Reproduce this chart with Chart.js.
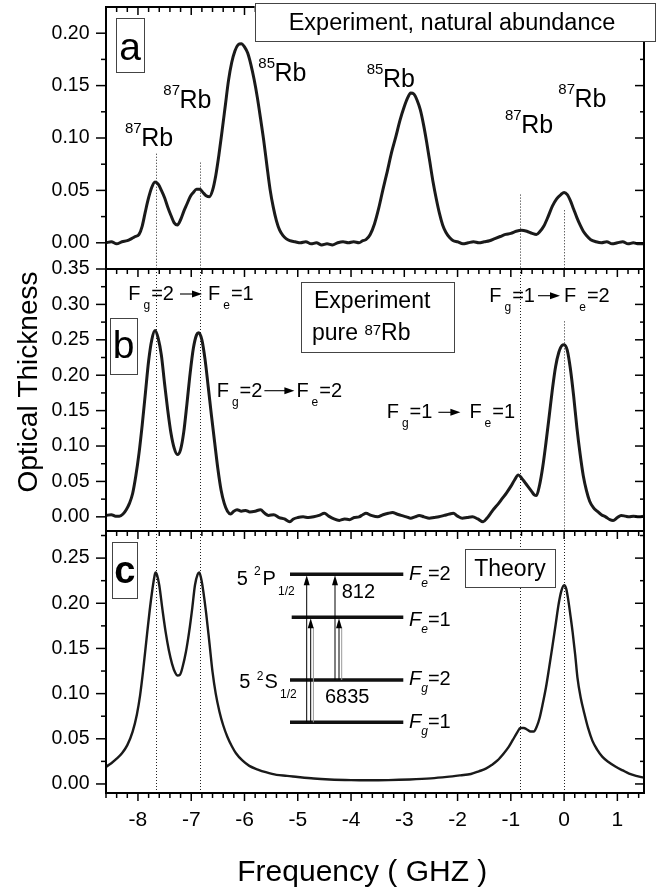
<!DOCTYPE html>
<html>
<head>
<meta charset="utf-8">
<script src="https://cdn.jsdelivr.net/npm/chart.js@4/dist/chart.umd.min.js"></script>
<style>
html,body{margin:0;padding:0;background:#fff;}
#wrap{width:658px;height:889px;position:relative;}
canvas{display:block;}
</style>
</head>
<body>
<div id="wrap"><canvas id="c" width="658" height="889"></canvas></div>
<script>
const FONT = '"Liberation Sans", Arial, Helvetica, sans-serif';

// ---------------- data ----------------
// Panel a: experiment, natural abundance (optical thickness vs GHz)
const freqA = [
  -8.60,-8.50,-8.40,-8.30,-8.20,-8.12,-8.05,-7.98,-7.92,-7.86,
  -7.80,-7.74,-7.68,-7.62,-7.56,-7.50,-7.44,-7.38,-7.32,-7.26,
  -7.20,-7.14,-7.08,-7.02,-6.96,-6.90,-6.84,-6.78,-6.72,-6.66,
  -6.60,-6.54,-6.48,-6.42,-6.36,-6.30,-6.24,-6.18,-6.12,-6.06,
  -6.00,-5.94,-5.88,-5.82,-5.76,-5.70,-5.64,-5.58,-5.52,-5.46,
  -5.40,-5.34,-5.28,-5.22,-5.15,-5.05,-4.95,-4.85,-4.75,-4.65,
  -4.55,-4.45,-4.35,-4.25,-4.15,-4.05,-3.95,-3.85,-3.78,-3.72,
  -3.64,-3.56,-3.48,-3.40,-3.32,-3.24,-3.16,-3.08,-3.00,-2.94,
  -2.88,-2.82,-2.76,-2.70,-2.64,-2.58,-2.52,-2.46,-2.40,-2.34,
  -2.28,-2.22,-2.15,-2.08,-2.00,-1.90,-1.80,-1.70,-1.60,-1.50,
  -1.40,-1.30,-1.20,-1.10,-1.00,-0.90,-0.80,-0.70,-0.60,-0.52,
  -0.45,-0.38,-0.30,-0.22,-0.14,-0.06,0.00,0.06,0.12,0.18,
  0.24,0.30,0.36,0.42,0.50,0.60,0.70,0.80,0.90,1.00,
  1.10,1.20,1.30,1.40,1.50
];
const odA = [
  0.000,0.001,-0.001,0.001,0.002,0.004,0.006,0.008,0.016,0.030,
  0.043,0.053,0.058,0.056,0.050,0.043,0.034,0.026,0.019,0.017,
  0.022,0.030,0.037,0.044,0.048,0.051,0.051,0.048,0.045,0.044,
  0.050,0.064,0.084,0.107,0.131,0.155,0.172,0.183,0.189,0.190,
  0.187,0.181,0.170,0.156,0.139,0.119,0.098,0.074,0.051,0.034,
  0.021,0.012,0.007,0.004,0.002,0.001,0.000,0.001,-0.001,0.000,
  -0.002,-0.001,-0.002,0.000,0.001,0.000,0.001,0.000,0.002,0.003,
  0.008,0.018,0.033,0.051,0.068,0.086,0.101,0.117,0.130,0.138,
  0.143,0.142,0.136,0.127,0.113,0.096,0.077,0.058,0.042,0.028,
  0.017,0.010,0.005,0.002,0.001,-0.001,0.000,0.001,0.000,0.001,
  0.002,0.004,0.006,0.008,0.009,0.011,0.012,0.011,0.009,0.008,
  0.011,0.016,0.025,0.035,0.042,0.046,0.048,0.046,0.040,0.032,
  0.024,0.017,0.011,0.007,0.003,0.001,0.000,0.001,-0.001,0.000,
  0.001,-0.001,0.000,-0.001,-0.001
];

// Panel b: experiment, pure 87Rb
const freqB = [
  -8.60,-8.50,-8.42,-8.35,-8.28,-8.22,-8.16,-8.10,-8.04,-7.98,
  -7.92,-7.86,-7.80,-7.74,-7.68,-7.62,-7.56,-7.50,-7.44,-7.38,
  -7.32,-7.26,-7.20,-7.14,-7.08,-7.02,-6.96,-6.90,-6.86,-6.80,
  -6.74,-6.68,-6.62,-6.56,-6.50,-6.44,-6.38,-6.32,-6.26,-6.20,
  -6.14,-6.06,-5.98,-5.90,-5.80,-5.70,-5.62,-5.55,-5.45,-5.35,
  -5.25,-5.15,-5.08,-5.00,-4.90,-4.80,-4.70,-4.60,-4.50,-4.42,
  -4.32,-4.22,-4.12,-4.03,-3.94,-3.85,-3.78,-3.72,-3.62,-3.50,
  -3.40,-3.30,-3.22,-3.14,-3.06,-2.96,-2.88,-2.80,-2.72,-2.63,
  -2.53,-2.44,-2.35,-2.25,-2.15,-2.08,-2.00,-1.91,-1.82,-1.72,
  -1.62,-1.52,-1.45,-1.38,-1.32,-1.24,-1.16,-1.08,-1.00,-0.93,
  -0.86,-0.80,-0.74,-0.68,-0.62,-0.56,-0.52,-0.46,-0.40,-0.34,
  -0.28,-0.22,-0.16,-0.10,-0.04,0.00,0.06,0.12,0.18,0.24,
  0.30,0.36,0.42,0.48,0.55,0.62,0.70,0.78,0.86,0.92,
  1.00,1.07,1.15,1.22,1.30,1.40,1.50
];
const odB = [
  0.002,0.003,0.001,0.001,0.004,0.010,0.019,0.033,0.058,0.090,
  0.130,0.175,0.220,0.250,0.263,0.252,0.228,0.188,0.150,0.118,
  0.097,0.088,0.095,0.120,0.160,0.203,0.238,0.257,0.260,0.250,
  0.222,0.183,0.143,0.105,0.068,0.038,0.019,0.008,0.004,0.008,
  0.010,0.008,0.009,0.007,0.008,0.010,0.005,0.002,0.003,-0.001,
  -0.003,-0.007,-0.003,-0.001,0.000,-0.001,0.000,0.002,0.005,0.001,
  -0.003,-0.005,-0.003,-0.004,-0.001,0.000,0.003,0.005,0.002,0.000,
  0.003,0.005,0.006,0.004,0.002,0.000,-0.002,0.000,0.002,0.000,
  -0.002,-0.001,0.000,0.002,0.004,0.005,0.001,-0.002,-0.001,0.000,
  -0.003,-0.007,-0.002,0.005,0.011,0.018,0.026,0.034,0.043,0.052,
  0.059,0.055,0.049,0.043,0.037,0.031,0.030,0.045,0.071,0.105,
  0.142,0.180,0.212,0.232,0.242,0.243,0.235,0.208,0.170,0.126,
  0.089,0.058,0.037,0.022,0.013,0.008,0.003,0.000,-0.004,-0.005,
  -0.001,0.002,0.001,0.000,0.001,0.000,0.001
];

// Panel c: theory
const freqC = [
  -8.60,-8.50,-8.40,-8.30,-8.20,-8.10,-8.02,-7.96,-7.90,-7.84,
  -7.78,-7.73,-7.69,-7.67,-7.64,-7.60,-7.54,-7.48,-7.42,-7.36,
  -7.30,-7.26,-7.21,-7.16,-7.10,-7.04,-6.98,-6.93,-6.88,-6.85,
  -6.82,-6.78,-6.72,-6.66,-6.60,-6.54,-6.47,-6.40,-6.32,-6.24,
  -6.16,-6.04,-5.91,-5.75,-5.60,-5.40,-5.20,-5.00,-4.70,-4.40,
  -4.00,-3.70,-3.30,-2.90,-2.50,-2.20,-1.95,-1.75,-1.60,-1.47,
  -1.36,-1.25,-1.13,-1.04,-0.96,-0.88,-0.82,-0.76,-0.69,-0.63,
  -0.57,-0.51,-0.46,-0.40,-0.34,-0.28,-0.22,-0.16,-0.10,-0.05,
  0.00,0.04,0.08,0.12,0.16,0.21,0.25,0.31,0.38,0.45,
  0.53,0.62,0.72,0.84,0.97,1.10,1.22,1.35,1.50
];
const odC = [
  0.019,0.023,0.028,0.034,0.043,0.058,0.077,0.098,0.127,0.160,
  0.192,0.215,0.230,0.234,0.231,0.220,0.193,0.168,0.148,0.133,
  0.123,0.120,0.121,0.130,0.146,0.168,0.195,0.220,0.232,0.234,
  0.229,0.216,0.189,0.157,0.124,0.100,0.080,0.065,0.052,0.042,
  0.034,0.026,0.020,0.016,0.013,0.010,0.009,0.0077,0.006,0.005,
  0.0043,0.0041,0.0043,0.0050,0.0062,0.0078,0.0095,0.011,0.014,0.017,
  0.021,0.026,0.034,0.041,0.049,0.057,0.062,0.062,0.060,0.058,
  0.058,0.064,0.073,0.089,0.107,0.129,0.152,0.176,0.200,0.214,
  0.220,0.216,0.203,0.186,0.168,0.142,0.118,0.096,0.078,0.062,
  0.048,0.038,0.030,0.024,0.019,0.015,0.0115,0.009,0.007
];

// tick labels
const xTickValues = [-8,-7,-6,-5,-4,-3,-2,-1,0,1];
const yTicksA = [0.00,0.05,0.10,0.15,0.20];
const yTicksB = [0.00,0.05,0.10,0.15,0.20,0.25,0.30,0.35];
const yTicksC = [0.00,0.05,0.10,0.15,0.20,0.25];

// transition frequencies marked by dotted guides (GHz)
const markerFreqs = [-7.67,-6.84,-0.83,0.00];

// ---------------- layout / style (not data) ----------------
const guideStartA = [0.085,0.0765,0.046,0.031]; // panel-a value where each guide starts
const guideGapB = {index:3, resume:0.276};       // guide at 0 GHz resumes below label in panel b

const zip = (xs, ys) => xs.map((x,i)=>({x, y: ys[i]}));

function txt(ctx, s, x, y, size, o = {}) {
  ctx.font = `${o.italic?'italic ':''}${o.bold?'bold ':''}${size}px ${FONT}`;
  ctx.textAlign = o.align || 'left';
  ctx.textBaseline = 'alphabetic';
  ctx.fillStyle = '#000';
  ctx.fillText(s, x, y);
  return ctx.measureText(s).width;
}
function seg(ctx, x0, y0, x1, y1) { ctx.beginPath(); ctx.moveTo(x0,y0); ctx.lineTo(x1,y1); ctx.stroke(); }
function box(ctx, x, y, w, h, fill) {
  if (fill) { ctx.fillStyle = '#fff'; ctx.fillRect(x, y, w, h); }
  ctx.strokeStyle = '#444'; ctx.lineWidth = 1; ctx.setLineDash([]);
  ctx.strokeRect(Math.round(x)+0.5, Math.round(y)+0.5, Math.round(w), Math.round(h));
}
function arrowRight(ctx, x0, x1, y) {
  ctx.strokeStyle = '#000'; ctx.lineWidth = 1.1; seg(ctx, x0, y, x1-8, y);
  ctx.fillStyle = '#000'; ctx.beginPath(); ctx.moveTo(x1-10, y-3.5); ctx.lineTo(x1, y); ctx.lineTo(x1-10, y+3.5); ctx.closePath(); ctx.fill();
}
function arrowUp(ctx, x, yLow, yHigh, ghost) {
  ctx.strokeStyle = '#000'; ctx.lineWidth = 1; seg(ctx, x, yLow, x, yHigh+8);
  if (ghost) { ctx.strokeStyle = '#999'; seg(ctx, x+2.7, yLow, x+2.7, yHigh+10); }
  ctx.fillStyle = '#000'; ctx.beginPath(); ctx.moveTo(x-3, yHigh+11); ctx.lineTo(x, yHigh+1); ctx.lineTo(x+3, yHigh+11); ctx.closePath(); ctx.fill();
}
function transition(ctx, t) {
  let cx = t.x;
  cx += txt(ctx, 'F', cx, t.y, 20);
  cx += 3; cx += txt(ctx, 'g', cx, t.y+9, 12); cx += 1;
  cx += txt(ctx, '='+t.g, cx, t.y, 20);
  cx += t.gap1;
  arrowRight(ctx, cx, cx + t.arrow, t.y-6);
  cx += t.arrow + t.gap2;
  cx += txt(ctx, 'F', cx, t.y, 20);
  cx += 3; cx += txt(ctx, 'e', cx, t.y+9, 12); cx += 1;
  txt(ctx, '='+t.e, cx, t.y, 20);
}
function iso(ctx, mass, x, y) {
  const w = txt(ctx, mass, x, y-13, 15);
  txt(ctx, 'Rb', x + w - 0.5, y, 25);
}

const isoLabels = [['87',125,146],['87',163.3,108.3],['85',258.3,81],['85',366.7,87.3],['87',505,133.3],['87',558.3,106.7]];
const transLabels = [
  {x:128.3, y:300,   g:'2', e:'1', gap1:6, arrow:22, gap2:6},
  {x:216.7, y:396.7, g:'2', e:'2', gap1:2, arrow:30, gap2:2},
  {x:489.3, y:301.7, g:'1', e:'2', gap1:3, arrow:22, gap2:4},
  {x:386.7, y:418.3, g:'1', e:'1', gap1:6, arrow:22, gap2:9}
];
const levels = [
  {y:574.3, x0:290, x1:403.3, sub:'e', n:'2', ty:580},
  {y:617.3, x0:291.7, x1:403.3, sub:'e', n:'1', ty:626},
  {y:680,   x0:290, x1:403.3, sub:'g', n:'2', ty:685},
  {y:722.3, x0:290, x1:403.3, sub:'g', n:'1', ty:728.3}
];
const levelArrows = [
  {x:306.7, from:722.3, to:574.3, ghost:false},
  {x:310.7, from:722.3, to:617.3, ghost:true},
  {x:335,   from:680,   to:574.3, ghost:false},
  {x:339,   from:680,   to:617.3, ghost:true}
];

const deco = {
  id: 'deco',
  beforeDatasetsDraw(chart) {
    const {ctx, scales:{x, ya, yb, yc}} = chart;
    ctx.save();
    ctx.strokeStyle = '#222'; ctx.lineWidth = 1; ctx.setLineDash([1,2]);
    markerFreqs.forEach((f, i) => {
      const px = Math.round(x.getPixelForValue(f)) + 0.5;
      seg(ctx, px, ya.getPixelForValue(guideStartA[i]), px, ya.bottom);
      const bTop = (i === guideGapB.index) ? yb.getPixelForValue(guideGapB.resume) : yb.top;
      seg(ctx, px, bTop, px, yb.bottom);
      seg(ctx, px, yc.top, px, yc.bottom);
    });
    ctx.restore();
  },
  afterDatasetsDraw(chart) {
    const {ctx, chartArea, scales:{x, ya, yb, yc}} = chart;
    const L = chartArea.left, R = chartArea.right;
    ctx.save();
    ctx.setLineDash([]);
    ctx.strokeStyle = '#000'; ctx.lineWidth = 1.5;
    const xMinor = [];
    for (let k = -43; k <= 7; k++) { const v = k/5; if (Math.abs(v - Math.round(v)) > 1e-6) xMinor.push(v); }
    const panels = [[ya, yTicksA], [yb, yTicksB], [yc, yTicksC]];
    panels.forEach(([s, maj]) => {
      maj.forEach(v => { const py = s.getPixelForValue(v); seg(ctx, L-10, py, L, py); seg(ctx, R-9, py, R, py); });
      for (let i = 0; i < maj.length; i++) {
        const v = maj[i] + 0.025;
        if (v < s.max - 0.004) { const py = s.getPixelForValue(v); seg(ctx, L-5, py, L, py); seg(ctx, R-4, py, R, py); }
      }
      xTickValues.forEach(v => { const px = x.getPixelForValue(v); seg(ctx, px, s.top, px, s.top+8); });
      xMinor.forEach(v => { const px = x.getPixelForValue(v); seg(ctx, px, s.top, px, s.top+5); });
    });
    xTickValues.forEach(v => { const px = x.getPixelForValue(v); seg(ctx, px, yc.bottom, px, yc.bottom+8); });
    xMinor.forEach(v => { const px = x.getPixelForValue(v); seg(ctx, px, yc.bottom, px, yc.bottom+5); });

    ctx.lineWidth = 2;
    ctx.strokeRect(L, ya.top, R-L, yc.bottom-ya.top);
    seg(ctx, L, ya.bottom, R, ya.bottom);
    seg(ctx, L, yb.bottom, R, yb.bottom);

    // panel a annotations
    box(ctx, 254.7, 2.7, 400.3, 38.3, true);
    txt(ctx, 'Experiment, natural abundance', 452, 30, 23.5, {align:'center'});
    box(ctx, 116.3, 18.3, 27.7, 54.4, true);
    txt(ctx, 'a', 130.2, 60, 39, {align:'center'});
    isoLabels.forEach(([m, lx, ly]) => iso(ctx, m, lx, ly));

    // panel b annotations
    box(ctx, 110, 317.7, 27.3, 55.6, true);
    txt(ctx, 'b', 123.7, 358, 39, {align:'center'});
    box(ctx, 301, 282.3, 153.3, 70, true);
    txt(ctx, 'Experiment', 314, 308.3, 23);
    const pw = txt(ctx, 'pure ', 312, 340, 23);
    const sw = txt(ctx, '87', 312+pw, 335, 15);
    txt(ctx, 'Rb', 312+pw+sw, 340, 23);
    transLabels.forEach(t => transition(ctx, t));

    // panel c annotations
    box(ctx, 112, 542, 25.3, 55.7, true);
    txt(ctx, 'c', 124.7, 583.3, 38, {align:'center', bold:true});
    box(ctx, 464.7, 548.7, 89.6, 38, true);
    txt(ctx, 'Theory', 510, 576, 23, {align:'center'});
    ctx.strokeStyle = '#111'; ctx.lineWidth = 3.5;
    levels.forEach(l => seg(ctx, l.x0, l.y, l.x1, l.y));
    levelArrows.forEach(a => arrowUp(ctx, a.x, a.from, a.to, a.ghost));
    levels.forEach(l => {
      let cx = 409;
      cx += txt(ctx, 'F', cx, l.ty, 20, {italic:true});
      cx += txt(ctx, l.sub, cx, l.ty+7, 12, {italic:true});
      txt(ctx, '='+l.n, cx, l.ty, 20);
    });
    txt(ctx, '5', 236.7, 585, 20); txt(ctx, '2', 254, 575, 12); txt(ctx, 'P', 262.5, 585, 20); txt(ctx, '1/2', 278, 595, 12);
    txt(ctx, '5', 239.3, 688.3, 20); txt(ctx, '2', 256.7, 680, 12); txt(ctx, 'S', 264.5, 688.3, 20); txt(ctx, '1/2', 280, 698.3, 12);
    txt(ctx, '812', 341.7, 598.3, 20);
    txt(ctx, '6835', 325, 703.3, 20);

    // axis titles
    ctx.save();
    ctx.translate(36.7, 382); ctx.rotate(-Math.PI/2);
    txt(ctx, 'Optical Thickness', 0, 0, 28, {align:'center'});
    ctx.restore();
    txt(ctx, 'Frequency ( GHZ )', 362.3, 881, 30, {align:'center'});
    ctx.restore();
  }
};

function yScale(min, max, majors) {
  return {
    type: 'linear', position: 'left', stack: 'panels', stackWeight: 1, min, max,
    grid: {display: false, drawTicks: false}, border: {display: false},
    ticks: {color: '#000', font: {size: 19.5, family: FONT}, padding: 16.5, autoSkip: false, callback: v => Number(v).toFixed(2)},
    afterBuildTicks: s => { s.ticks = majors.map(v => ({value: v})); },
    afterFit: s => { s.width = 106; s.paddingTop = 0; s.paddingBottom = 0; }
  };
}

const lineStyle = {borderColor: '#1a1a1a', borderWidth: 3, pointRadius: 0, fill: false, cubicInterpolationMode: 'monotone'};

new Chart(document.getElementById('c'), {
  type: 'line',
  data: {
    datasets: [
      Object.assign({label: 'natural abundance', data: zip(freqA, odA), yAxisID: 'ya'}, lineStyle),
      Object.assign({label: 'pure 87Rb', data: zip(freqB, odB), yAxisID: 'yb'}, lineStyle),
      Object.assign({label: 'theory', data: zip(freqC, odC), yAxisID: 'yc'}, lineStyle, {borderWidth: 2.4})
    ]
  },
  options: {
    responsive: false, animation: false, devicePixelRatio: 1, events: [],
    layout: {padding: {left: 0, right: 14, top: 7, bottom: 0}},
    plugins: {legend: {display: false}, tooltip: {enabled: false}, title: {display: false}},
    scales: {
      x: {
        type: 'linear', position: 'bottom', min: -8.6, max: 1.5,
        grid: {display: false, drawTicks: false}, border: {display: false},
        ticks: {color: '#000', font: {size: 21, family: FONT}, padding: 15, maxRotation: 0, autoSkip: false, callback: v => String(v)},
        afterBuildTicks: s => { s.ticks = xTickValues.map(v => ({value: v})); },
        afterFit: s => { s.height = 96; s.paddingLeft = 0; s.paddingRight = 0; }
      },
      yc: yScale(-0.01, 0.28, yTicksC),
      yb: yScale(-0.02, 0.35, yTicksB),
      ya: yScale(-0.025, 0.225, yTicksA)
    }
  },
  plugins: [deco]
});
</script>
</body>
</html>
